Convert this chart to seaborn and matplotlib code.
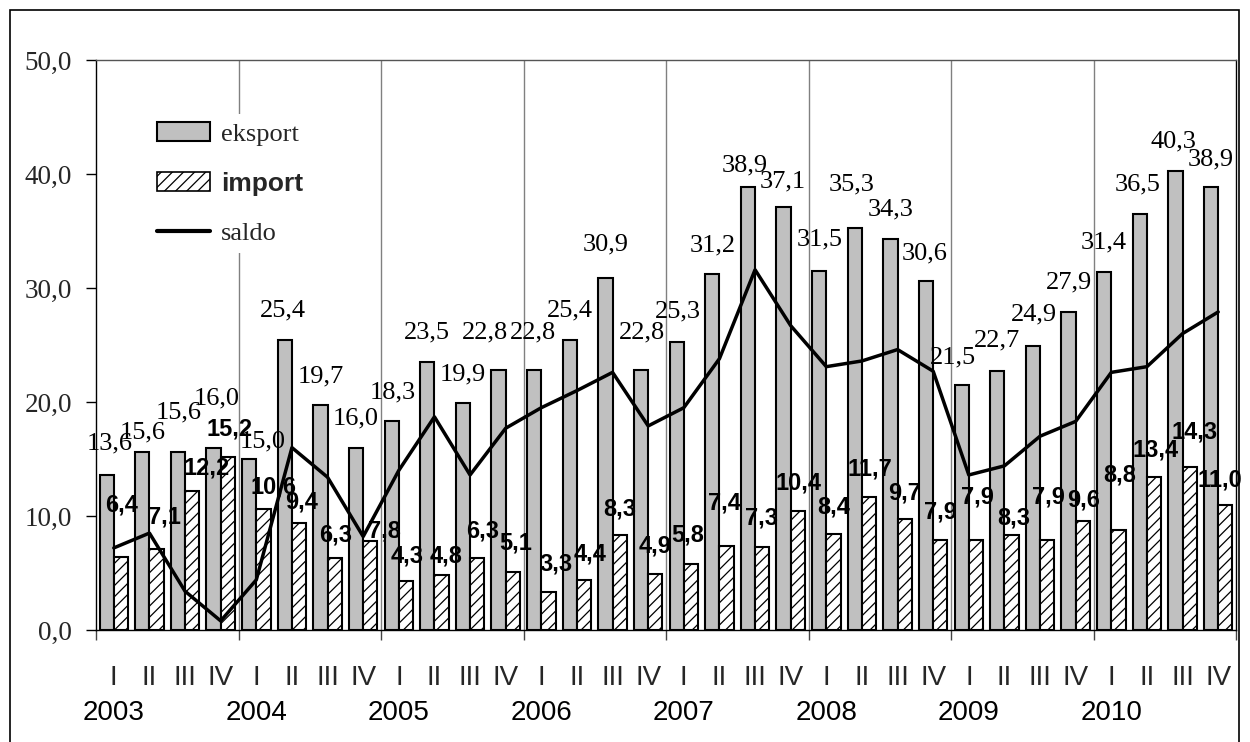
import numpy as np
import pandas as pd
import matplotlib
matplotlib.use("Agg")
import matplotlib.pyplot as plt
import matplotlib.transforms as mtransforms
import seaborn as sns
from matplotlib.patches import Patch, Rectangle
from matplotlib.lines import Line2D
from matplotlib.font_manager import FontProperties
from matplotlib.ticker import FuncFormatter, FixedLocator

# ---- data (bn) -------------------------------------------------------------
years = ["2003", "2004", "2005", "2006", "2007", "2008", "2009", "2010"]
quarters = ["I", "II", "III", "IV"]

eksport = [13.6, 15.6, 15.6, 16.0,
           15.0, 25.4, 19.7, 16.0,
           18.3, 23.5, 19.9, 22.8,
           22.8, 25.4, 30.9, 22.8,
           25.3, 31.2, 38.9, 37.1,
           31.5, 35.3, 34.3, 30.6,
           21.5, 22.7, 24.9, 27.9,
           31.4, 36.5, 40.3, 38.9]

imp = [6.4, 7.1, 12.2, 15.2,
       10.6, 9.4, 6.3, 7.8,
       4.3, 4.8, 6.3, 5.1,
       3.3, 4.4, 8.3, 4.9,
       5.8, 7.4, 7.3, 10.4,
       8.4, 11.7, 9.7, 7.9,
       7.9, 8.3, 7.9, 9.6,
       8.8, 13.4, 14.3, 11.0]

# balance = export - import
saldo = [round(e - i, 1) for e, i in zip(eksport, imp)]

# value-label placement: (dx, height above bar top) in pixels
eksport_nudge = [(3, 32), (0, 20), (1, 40), (3, 49), (13, 18), (-2, 30), (0, 29), (0, 29),
                 (1, 29), (0, 30), (0, 29), (-14, 38), (-1, 38), (0, 30), (0, 33), (1, 38),
                 (1, 30), (0, 29), (-3, 21), (-1, 26), (0, 31), (-3, 43), (0, 30), (-1, 28),
                 (-9, 27), (0, 31), (1, 32), (0, 29), (0, 30), (-2, 29), (-2, 29), (0, 27)]
import_nudge = [(1, 52), (8, 32), (14, 23), (2, 28), (10, 22), (3, 21), (1, 23), (14, 10),
                (1, 25), (5, 19), (5, 27), (3, 29), (8, 28), (6, 26), (0, 26), (0, 28),
                (-3, 29), (-2, 43), (-1, 29), (1, 28), (0, 27), (1, 28), (0, 26), (0, 28),
                (1, 43), (2, 17), (1, 43), (1, 21), (1, 55), (1, 27), (5, 35), (-5, 25)]

# ---- styling ---------------------------------------------------------------
sns.set_theme(style="white")
plt.rcParams["font.family"] = ["Liberation Serif", "DejaVu Serif"]
plt.rcParams["hatch.linewidth"] = 0.9
plt.rcParams["hatch.color"] = "#222222"

SERIF = "Liberation Serif"
SANS = "Liberation Sans"
GRAY = "#c0c0c0"

W, H = 1250, 742
fig = plt.figure(figsize=(W / 100, H / 100), dpi=100)
fig.patch.set_facecolor("white")
ax = fig.add_axes([96 / W, 1 - 630 / H, 1140 / W, 570 / H])

periods = [f"{y} {q}" for y in years for q in quarters]
df = pd.DataFrame({
    "okres": periods * 2,
    "wartosc": eksport + imp,
    "seria": ["eksport"] * len(periods) + ["import"] * len(periods),
})

sns.barplot(data=df, x="okres", y="wartosc", hue="seria", order=periods,
            hue_order=["eksport", "import"],
            palette={"eksport": GRAY, "import": "white"},
            width=0.8, saturation=1, edgecolor="black", linewidth=1.5,
            errorbar=None, legend=False, ax=ax)

exp_bars = ax.containers[0]
imp_bars = ax.containers[1]
for bar in imp_bars:
    bar.set_hatch("///")

x = np.arange(len(periods))
sns.lineplot(x=x, y=saldo, color="black", linewidth=2.5, ax=ax, zorder=3)

# year separators
for b in np.arange(3.5, len(periods) - 1, 4):
    ax.axvline(b, color="#808080", linewidth=1.0, zorder=0.5)

# ---- value labels ----------------------------------------------------------
def fmt(v):
    return f"{v:.1f}".replace(".", ",")

for bar, v, (dx, dy) in zip(exp_bars, eksport, eksport_nudge):
    cx = bar.get_x() + bar.get_width() / 2
    ax.annotate(fmt(v), xy=(cx, v), xytext=(dx, dy), textcoords="offset pixels",
                ha="center", va="center", fontfamily=SERIF, fontsize=19,
                color="black", zorder=6)

for bar, v, (dx, dy) in zip(imp_bars, imp, import_nudge):
    cx = bar.get_x() + bar.get_width() / 2
    ax.annotate(fmt(v), xy=(cx, v), xytext=(dx, dy), textcoords="offset pixels",
                ha="center", va="center", fontfamily=SANS, fontweight="bold",
                fontsize=17, color="black", zorder=6)

# ---- axes ------------------------------------------------------------------
ax.set_xlim(-0.5, len(periods) - 0.5)
ax.set_ylim(0, 50)
ax.set_xlabel("")
ax.set_ylabel("")

ax.yaxis.set_major_locator(FixedLocator([0, 10, 20, 30, 40, 50]))
ax.yaxis.set_major_formatter(FuncFormatter(lambda v, p: fmt(v)))
ax.tick_params(axis="y", which="major", direction="out", length=7.2, width=1.0,
               color="black", pad=10, left=True, labelsize=19.5)
for t in ax.get_yticklabels():
    t.set_fontfamily(SERIF)

ax.set_xticks(x)
ax.set_xticklabels(quarters * len(years), fontfamily=SANS, fontsize=20)
ax.tick_params(axis="x", which="major", length=0, pad=25)
ax.xaxis.set_minor_locator(FixedLocator(np.arange(-0.5, len(periods), 4)))
ax.tick_params(axis="x", which="minor", direction="out", length=7.5, width=1.0,
               color="#444444", bottom=True)

trans = mtransforms.blended_transform_factory(ax.transData, ax.transAxes)
for k, yr in enumerate(years):
    ax.text(k * 4, (630 - 713) / 570, yr, transform=trans, ha="center", va="center",
            fontfamily=SANS, fontsize=20, color="black")

for side in ["left", "bottom", "right", "top"]:
    ax.spines[side].set_visible(True)
    ax.spines[side].set_color("black")
    ax.spines[side].set_linewidth(1.0)
ax.spines["top"].set_color("#555555")
ax.grid(False)

# ---- legend ----------------------------------------------------------------
handles = [
    Patch(facecolor=GRAY, edgecolor="black", linewidth=1.5),
    Patch(facecolor="white", edgecolor="black", hatch="///", linewidth=1.2),
    Line2D([], [], color="black", linewidth=3),
]
leg = ax.legend(handles, ["eksport", "import", "saldo"], loc="upper left",
                bbox_to_anchor=(0.047, 0.905), frameon=True, fancybox=False,
                framealpha=1, facecolor="white", edgecolor="none",
                prop=FontProperties(family=SERIF, size=19),
                handlelength=2.0, handleheight=0.72, handletextpad=0.4,
                labelspacing=0.98, borderpad=0.3, borderaxespad=0)
leg.get_texts()[1].set_fontproperties(FontProperties(family=SANS, weight="bold", size=19))
leg.set_zorder(7)

# outer chart frame
fig.add_artist(Rectangle((10 / W, -0.02), 1229 / W, 1.02 - 10 / H,
                         transform=fig.transFigure, fill=False,
                         edgecolor="black", linewidth=1.2))

fig.savefig("out.png", dpi=100, facecolor="white")
